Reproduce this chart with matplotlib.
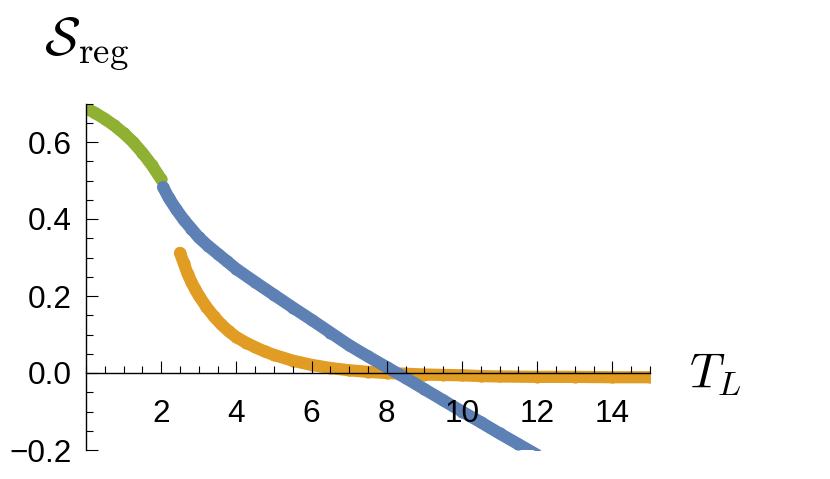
import matplotlib
matplotlib.use("Agg")
import matplotlib.pyplot as plt
from matplotlib.ticker import MultipleLocator, FixedLocator

plt.rcParams['mathtext.fontset'] = 'cm'

# ---- data ----
green_x = [0.0, 0.25, 0.5, 0.75, 1.0, 1.25, 1.5, 1.75, 2.0]
green_y = [0.688, 0.675, 0.660, 0.643, 0.623, 0.600, 0.572, 0.540, 0.503]

blue_x = [2.05, 2.2, 2.4, 2.6, 2.8, 3.0, 3.25, 3.5, 3.75, 4.0, 4.5, 5.0, 5.5,
          6.0, 6.5, 7.0, 7.5, 8.0, 8.5, 9.0, 9.5, 10.0, 10.5, 11.0, 11.5, 12.0]
blue_y = [0.483, 0.455, 0.425, 0.398, 0.375, 0.352, 0.330, 0.310, 0.290, 0.270,
          0.236, 0.203, 0.170, 0.138, 0.105, 0.072, 0.043, 0.015, -0.013,
          -0.042, -0.071, -0.100, -0.128, -0.157, -0.185, -0.213]

orange_x = [2.5, 2.6, 2.7, 2.8, 2.9, 3.0, 3.2, 3.4, 3.6, 3.8, 4.0, 4.25, 4.5,
            4.75, 5.0, 5.5, 6.0, 6.5, 7.0, 7.5, 8.0, 8.5, 9.0, 9.5, 10.0,
            10.5, 11.0, 12.0, 13.0, 14.0, 15.0]
orange_y = [0.312, 0.285, 0.258, 0.237, 0.218, 0.201, 0.172, 0.147, 0.126,
            0.108, 0.093, 0.079, 0.067, 0.056, 0.047, 0.032, 0.021, 0.013,
            0.007, 0.003, 0.000, -0.002, -0.004, -0.005, -0.006, -0.008,
            -0.009, -0.010, -0.010, -0.011, -0.011]

x_major = [2, 4, 6, 8, 10, 12, 14]
x_labels = ["2", "4", "6", "8", "10", "12", "14"]
y_major = [-0.2, 0.0, 0.2, 0.4, 0.6]
y_labels = ["\u22120.2", "0.0", "0.2", "0.4", "0.6"]

BLUE = "#5E81B5"
ORANGE = "#E19C24"
GREEN = "#8FB032"

fig = plt.figure(figsize=(8.3, 4.79), dpi=100)
ax = fig.add_axes([86 / 830, (479 - 450) / 479, 564 / 830, 346.5 / 479])

ms = 8.8
for xs, ys, c, z in [(orange_x, orange_y, ORANGE, 2.0),
                     (green_x, green_y, GREEN, 2.1),
                     (blue_x, blue_y, BLUE, 2.2)]:
    ax.plot(xs, ys, color=c, lw=ms, solid_capstyle='round',
            marker='o', ms=ms, mew=0, zorder=z)

ax.set_xlim(0, 15)
ax.set_ylim(-0.2, 0.7)

for s in ['top', 'right']:
    ax.spines[s].set_visible(False)
ax.spines['bottom'].set_position(('data', 0))
ax.spines['left'].set_position(('data', 0))
for s in ['bottom', 'left']:
    ax.spines[s].set_linewidth(1.0)
    ax.spines[s].set_zorder(5)
ax.set_axisbelow(False)

ax.xaxis.set_major_locator(FixedLocator(x_major))
ax.set_xticklabels(x_labels)
ax.xaxis.set_minor_locator(MultipleLocator(0.5))
ax.yaxis.set_major_locator(FixedLocator(y_major))
ax.set_yticklabels(y_labels)
ax.yaxis.set_minor_locator(MultipleLocator(0.05))

tickfont = dict(family=['Liberation Sans', 'DejaVu Sans'], size=22.7)
for lab in ax.get_xticklabels() + ax.get_yticklabels():
    lab.set_fontfamily(tickfont['family'])
    lab.set_fontsize(tickfont['size'])

ax.tick_params(axis='x', which='major', direction='in', length=8.6, width=0.8, pad=18.5)
ax.tick_params(axis='x', which='minor', direction='in', length=4.7, width=0.8)
ax.tick_params(axis='y', which='major', direction='in', length=8.6, width=0.8, pad=10.5)
ax.tick_params(axis='y', which='minor', direction='in', length=4.7, width=0.8)
ax.xaxis.set_zorder(5)
ax.yaxis.set_zorder(5)

ax.text(16.05, 0.0, r'$T_L$', fontsize=35, ha='left', va='center', clip_on=False)
fig.text(44 / 830, 1 - 44 / 479, r'$\mathcal{S}_{\mathrm{reg}}$', fontsize=38,
         ha='left', va='center')

fig.savefig("out.png", dpi=100)
